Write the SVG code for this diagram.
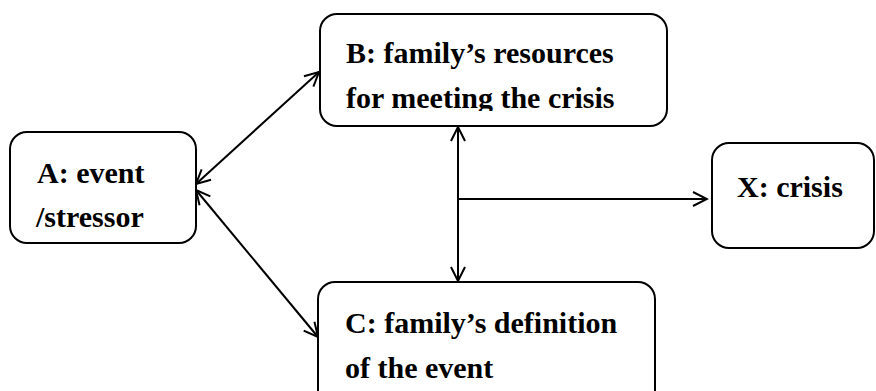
<svg xmlns="http://www.w3.org/2000/svg" width="876" height="391" viewBox="0 0 876 391">
  <style>
    .box { fill: #ffffff; stroke: #000000; stroke-width: 2; }
    .lbl { font-family: 'Liberation Serif', 'DejaVu Serif', serif; font-weight: 700; font-size: 30px; fill: #000000; }
    .conn { fill: none; stroke: #000000; stroke-width: 2; }
  </style>
  <defs>
    <marker id="arrow" viewBox="0 0 18 18" refX="16" refY="9" markerWidth="18" markerHeight="18" markerUnits="userSpaceOnUse" orient="auto-start-reverse">
      <path d="M2,2 L16,9 L2,16" fill="none" stroke="#000000" stroke-width="2"/>
    </marker>
    <clipPath id="clipB">
      <rect x="320" y="14" width="347" height="97"/>
    </clipPath>
  </defs>

  <g id="connectors">
    <line class="conn" x1="196" y1="184" x2="319" y2="72" marker-start="url(#arrow)" marker-end="url(#arrow)"/>
    <line class="conn" x1="196" y1="190" x2="318" y2="337" marker-start="url(#arrow)" marker-end="url(#arrow)"/>
    <line class="conn" x1="458" y1="127" x2="458" y2="281" marker-start="url(#arrow)" marker-end="url(#arrow)"/>
    <line class="conn" x1="459" y1="199" x2="707" y2="199" marker-end="url(#arrow)"/>
  </g>

  <g id="node-a">
    <rect class="box" x="10" y="132" width="186" height="111" rx="17"/>
    <text class="lbl" x="37" y="183" font-family="Liberation Serif, serif">A: event</text>
    <text class="lbl" x="36" y="227" font-family="Liberation Serif, serif">/stressor</text>
  </g>

  <g id="node-b">
    <rect class="box" x="320" y="14" width="347" height="112" rx="17"/>
    <g clip-path="url(#clipB)">
      <text class="lbl" x="346" y="63">B: family’s resources</text>
      <text class="lbl" x="346" y="108">for meeting the crisis</text>
    </g>
  </g>

  <g id="node-c">
    <rect class="box" x="318" y="282" width="337" height="130" rx="17"/>
    <text class="lbl" x="345" y="333">C: family’s definition</text>
    <text class="lbl" x="345" y="378">of the event</text>
  </g>

  <g id="node-x">
    <rect class="box" x="712" y="143" width="162" height="105" rx="17"/>
    <text class="lbl" x="737" y="197">X: crisis</text>
  </g>
</svg>
